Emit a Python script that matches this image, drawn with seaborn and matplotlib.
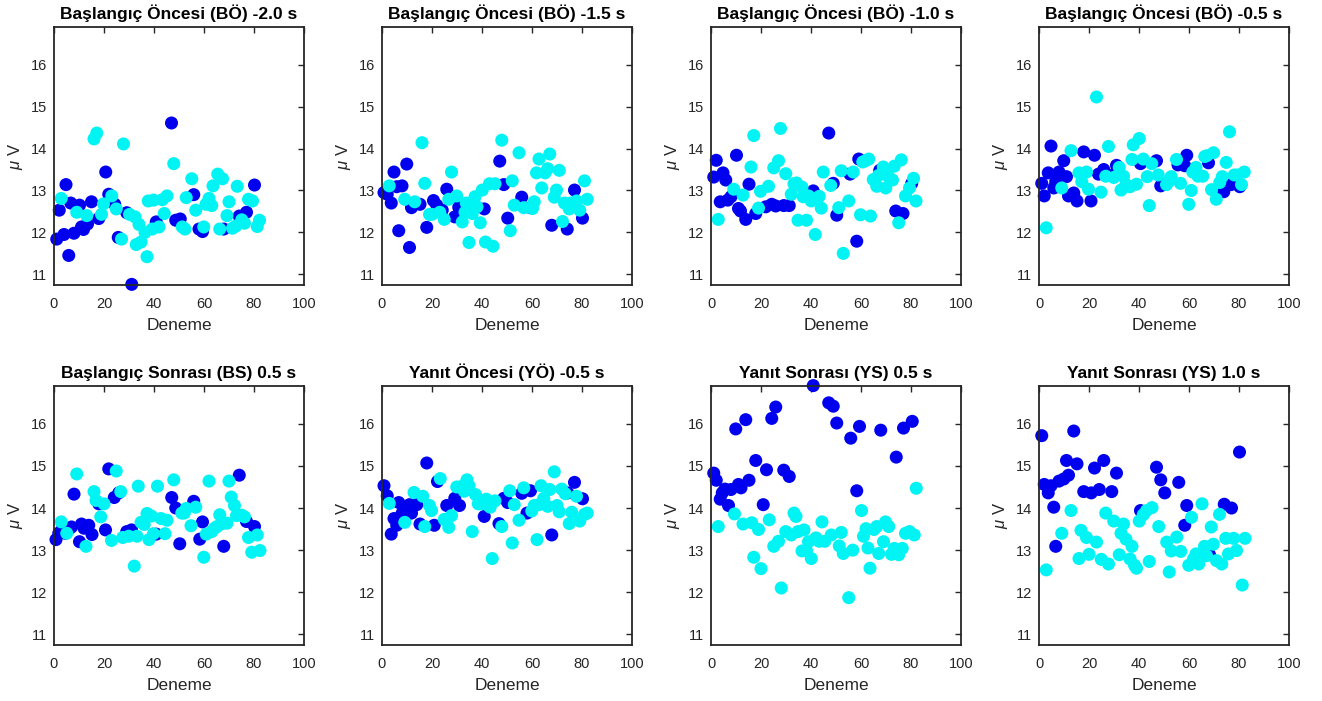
import numpy as np
import pandas as pd
import seaborn as sns
import matplotlib
matplotlib.use("Agg")
import matplotlib.pyplot as plt

# Data -----

titles = [
    "Başlangıç Öncesi (BÖ) -2.0 s",
    "Başlangıç Öncesi (BÖ) -1.5 s",
    "Başlangıç Öncesi (BÖ) -1.0 s",
    "Başlangıç Öncesi (BÖ) -0.5 s",
    "Başlangıç Sonrası (BS) 0.5 s",
    "Yanıt Öncesi (YÖ) -0.5 s",
    "Yanıt Sonrası (YS) 0.5 s",
    "Yanıt Sonrası (YS) 1.0 s",
]

# panel 1: BÖ -2.0 s
p1_blue_x = [1.1, 2.1, 4, 4.8, 5.9, 6.7, 8, 10.2, 11, 11.8, 13.4, 15, 17.9, 20.7, 21.9, 24.3, 25.7, 29.1, 31.1, 40.9, 47, 48.7, 50.5, 55.9, 58, 59.4, 67.9, 74.1, 77, 80.2]
p1_blue_y = [11.84, 12.53, 11.95, 13.14, 11.45, 12.7, 11.98, 12.65, 12.13, 12.07, 12.2, 12.73, 12.33, 13.44, 12.91, 12.67, 11.88, 12.47, 10.76, 12.25, 14.61, 12.29, 12.32, 12.9, 12.08, 12.02, 12.08, 12.39, 12.48, 13.13]
p1_cyan_x = [2.9, 9.1, 13.1, 16, 17.1, 19, 19.8, 23.1, 24.9, 27, 27.8, 30.2, 32.4, 32.9, 34, 34.8, 36.4, 37.2, 37.7, 39.3, 39.8, 42, 43.3, 44.1, 45.2, 47.9, 51.3, 52.4, 52.9, 55.1, 56.7, 59.9, 60.8, 62, 63.1, 63.6, 65.5, 66.3, 67.4, 69.2, 70, 71.4, 72.7, 73.3, 75.1, 76.2, 77.8, 79.4, 81.3, 82.2]
p1_cyan_y = [12.81, 12.48, 12.4, 14.23, 14.37, 12.43, 12.68, 12.87, 12.56, 11.84, 14.11, 12.43, 12.37, 11.71, 12.19, 11.77, 12.0, 11.42, 12.75, 12.08, 12.77, 12.13, 12.78, 12.45, 12.87, 13.64, 12.13, 12.08, 12.83, 13.28, 12.53, 12.13, 12.67, 12.81, 12.64, 13.11, 13.39, 12.08, 13.28, 12.4, 12.73, 12.1, 12.15, 13.1, 12.3, 12.22, 12.79, 12.75, 12.14, 12.29]

# panel 2: BÖ -1.5 s
p2_blue_x = [0.8, 2.1, 3.7, 4.8, 5.9, 6.7, 8, 9.9, 11, 11.8, 15.2, 17.9, 20.6, 21.9, 24.1, 25.9, 29.1, 30.7, 40.9, 47.1, 48.7, 50.3, 55.9, 59.4, 67.9, 74.1, 77, 80.2]
p2_blue_y = [12.95, 12.91, 12.7, 13.44, 13.09, 12.04, 13.11, 13.63, 11.64, 12.59, 12.67, 12.12, 12.76, 12.65, 12.53, 13.03, 12.37, 12.6, 12.56, 13.7, 13.14, 12.34, 12.84, 12.59, 12.17, 12.08, 13.01, 12.34]
p2_cyan_x = [2.9, 9.1, 13.1, 16, 17.1, 19, 20, 23.1, 24.9, 26.7, 27.8, 29.9, 32.1, 33.7, 33.2, 34.8, 36.1, 37.2, 38, 39.3, 40.1, 41.4, 43, 44.4, 45.2, 47.9, 51.3, 52.1, 52.9, 54.8, 56.7, 60.2, 60.9, 61.8, 62.8, 63.9, 65.2, 66.3, 67.1, 68.9, 69.8, 70.9, 72.2, 73, 74.9, 75.4, 77.8, 79.1, 81, 82.1]
p2_cyan_y = [13.11, 12.79, 12.73, 14.14, 13.17, 12.43, 12.43, 12.48, 12.31, 12.79, 13.44, 12.87, 12.25, 12.7, 12.48, 11.76, 12.45, 12.85, 12.61, 12.23, 13.01, 11.77, 13.16, 11.67, 13.16, 14.2, 12.04, 13.23, 12.65, 13.9, 12.59, 12.57, 12.73, 13.42, 13.75, 13.06, 13.42, 13.52, 13.87, 12.84, 13.01, 13.48, 12.26, 12.7, 12.56, 12.7, 12.75, 12.53, 13.23, 12.79]

# panel 3: BÖ -1.0 s
p3_blue_x = [1.1, 2.1, 3.7, 4.8, 5.9, 6.7, 8, 10.2, 11, 11.8, 13.9, 15.2, 17.9, 21.9, 24.3, 25.9, 29.1, 31.3, 40.9, 47.1, 48.9, 50.3, 55.6, 58.3, 59.1, 67.5, 73.9, 76.8, 80.3]
p3_blue_y = [13.32, 13.72, 12.73, 13.42, 13.25, 12.77, 12.85, 13.84, 12.57, 12.51, 12.31, 13.15, 12.45, 12.61, 12.67, 12.63, 12.64, 12.64, 12.99, 14.37, 13.17, 12.41, 13.39, 11.79, 13.75, 13.48, 12.51, 12.45, 13.17]
p3_cyan_x = [2.9, 9.1, 12.8, 16, 17.1, 19, 19.8, 23, 25.1, 27, 27.8, 29.9, 32.1, 33.2, 34.2, 34.8, 36.4, 36.9, 38.2, 39, 40.1, 41.7, 43.3, 44.1, 44.9, 47.9, 51.1, 52.1, 52.9, 55.1, 56.9, 59.8, 60.7, 61.8, 63.1, 63.8, 64.9, 66.3, 67, 68.9, 69.9, 71, 72.6, 73.3, 75.1, 76.1, 77.8, 79.4, 81, 82]
p3_cyan_y = [12.31, 13.03, 12.89, 13.56, 14.31, 12.58, 12.98, 13.1, 13.54, 13.71, 14.48, 13.4, 12.91, 13.16, 13.18, 12.29, 13.08, 12.85, 12.29, 12.87, 12.75, 11.95, 12.86, 12.58, 13.44, 13.12, 12.59, 13.47, 11.5, 12.75, 13.44, 12.42, 13.68, 13.71, 13.75, 12.39, 13.26, 13.1, 13.36, 13.56, 13.06, 13.33, 13.25, 13.58, 12.23, 13.73, 12.87, 13.06, 13.29, 12.75]

# panel 4: BÖ -0.5 s
p4_blue_x = [1.1, 2.1, 3.7, 4.8, 5.9, 6.7, 8, 9.9, 11, 11.8, 13.9, 15.2, 17.9, 20.8, 22.2, 23.8, 25.9, 29.1, 31, 40.6, 47, 48.7, 50.3, 55.6, 58.3, 59.1, 67.8, 73.9, 76.8, 80.3]
p4_blue_y = [13.17, 12.87, 13.42, 14.06, 13.06, 13.21, 13.44, 13.71, 13.33, 12.87, 12.94, 12.75, 13.92, 12.75, 13.84, 13.39, 13.5, 13.36, 13.6, 13.64, 13.71, 13.11, 13.17, 13.61, 13.59, 13.84, 13.66, 12.97, 13.14, 13.09]
p4_cyan_x = [2.9, 9.1, 12.8, 16, 17.1, 19, 19.8, 23, 24.8, 26.7, 27.8, 29.9, 32.1, 32.8, 33.8, 34.8, 36.4, 37.2, 37.7, 39, 40.1, 41.7, 43.3, 44.1, 45.1, 47.7, 51, 52.1, 52.9, 55, 56.6, 59.9, 60.9, 61.5, 62.8, 63.6, 65.5, 66.3, 67.1, 69.8, 69, 70.9, 72.3, 73.3, 74.9, 76.2, 78.1, 79.4, 81, 82.1]
p4_cyan_y = [12.11, 13.06, 13.95, 13.42, 13.21, 13.44, 13.03, 15.23, 12.96, 13.34, 14.05, 13.31, 13.55, 13.01, 13.34, 13.14, 13.09, 13.74, 14.09, 13.15, 14.24, 13.75, 13.33, 12.64, 13.64, 13.37, 13.14, 13.23, 13.33, 13.74, 13.17, 12.67, 13.0, 13.44, 13.55, 13.34, 13.34, 13.81, 13.83, 13.9, 13.02, 12.79, 13.19, 13.33, 13.67, 14.4, 13.37, 13.37, 13.14, 13.44]

# panel 5: BS 0.5 s
p5_blue_x = [0.8, 1.9, 2.9, 4.5, 5.9, 7, 8, 10.2, 11, 12, 13.9, 15.2, 17.9, 20.6, 21.9, 24.1, 25.9, 29.1, 31, 40.9, 47.1, 48.7, 50.3, 55.9, 58.3, 59.4, 67.9, 74.1, 77, 80.2]
p5_blue_y = [13.25, 13.4, 13.46, 13.4, 13.5, 13.55, 14.33, 13.2, 13.62, 13.52, 13.59, 13.37, 14.1, 13.48, 14.93, 14.25, 14.36, 13.44, 13.48, 13.38, 14.25, 14.0, 13.15, 14.16, 13.26, 13.67, 13.09, 14.78, 13.68, 13.56]
p5_cyan_x = [2.9, 5.1, 9.1, 12.8, 16, 16.8, 18.7, 20, 23, 24.9, 26.7, 27.5, 29.9, 32.1, 33.2, 33.7, 34.8, 36.1, 37.2, 38, 39, 39.8, 41.4, 42.8, 44.4, 45.2, 47.9, 51.1, 52.1, 52.9, 54.8, 56.7, 59.9, 60.9, 62, 63.1, 64.2, 65.2, 66.3, 67.4, 69.2, 70, 70.9, 72.2, 73, 75.1, 76.2, 77.8, 79.1, 81.3, 82.4]
p5_cyan_y = [13.67, 13.4, 14.81, 13.09, 14.39, 14.18, 13.79, 14.1, 13.23, 14.88, 14.39, 13.3, 13.33, 12.62, 13.33, 14.52, 13.66, 13.61, 13.87, 13.25, 13.81, 13.39, 14.52, 13.75, 13.39, 13.71, 14.67, 13.88, 13.88, 13.99, 13.58, 14.02, 12.83, 13.38, 14.64, 13.44, 13.52, 13.56, 13.84, 13.63, 13.64, 14.64, 14.26, 14.06, 13.82, 13.83, 13.79, 13.3, 12.95, 13.36, 12.99]

# panel 6: YÖ -0.5 s
p6_blue_x = [0.8, 2.1, 3.7, 4.8, 5.9, 6.7, 8, 9.6, 11, 11.8, 13.9, 15.2, 17.9, 20.9, 22.2, 25.9, 29.1, 31, 40.9, 46.8, 48.7, 50.3, 55.9, 58, 59.4, 67.9, 74.3, 77, 80.2]
p6_blue_y = [14.53, 14.29, 13.38, 13.75, 13.59, 14.13, 13.87, 13.88, 14.08, 13.88, 14.08, 13.62, 15.07, 13.59, 14.63, 14.06, 14.23, 14.06, 13.8, 13.63, 14.23, 14.13, 14.35, 13.88, 14.41, 13.36, 14.36, 14.61, 14.22]
p6_cyan_x = [2.9, 9.1, 12.8, 16.3, 17.1, 19, 19.8, 23.3, 24.9, 26.7, 27.8, 29.9, 32.1, 32.9, 34, 34.8, 36.1, 37.4, 38.5, 39.6, 40.6, 41.7, 42.5, 43.3, 44.1, 45.2, 47.9, 51.1, 52.1, 52.9, 54.8, 56.7, 59.9, 60.9, 62, 62.8, 63.6, 64.7, 66.3, 67.1, 68.9, 70, 70.9, 71.9, 73.3, 74.9, 75.9, 77.8, 79.1, 81, 82.1]
p6_cyan_y = [14.11, 13.66, 14.37, 14.28, 13.56, 14.06, 13.94, 14.7, 13.73, 13.54, 13.82, 14.5, 14.52, 14.4, 14.67, 14.53, 13.44, 14.32, 14.1, 14.1, 14.12, 14.21, 14.06, 14.02, 12.8, 14.17, 13.56, 14.41, 13.17, 14.08, 13.71, 14.48, 13.93, 14.06, 13.25, 14.08, 14.53, 14.23, 14.04, 14.44, 14.86, 14.06, 13.91, 14.45, 14.34, 13.63, 13.9, 14.28, 13.69, 13.85, 13.88]

# panel 7: YS 0.5 s
p7_blue_x = [1.1, 2.1, 3.7, 4.5, 5.6, 7, 8, 9.9, 11, 12, 13.9, 15.2, 17.9, 20.9, 22.2, 24.3, 25.9, 29.1, 31.3, 40.9, 47.1, 48.9, 50.3, 55.9, 58.3, 59.4, 67.9, 74.1, 77, 80.5]
p7_blue_y = [14.83, 14.66, 14.21, 14.36, 14.45, 14.06, 14.44, 15.88, 14.56, 14.48, 16.1, 14.66, 15.13, 14.08, 14.91, 16.13, 16.4, 14.9, 14.75, 16.91, 16.5, 16.42, 16.02, 15.66, 14.41, 15.94, 15.85, 15.21, 15.9, 16.06]
p7_cyan_x = [2.9, 9.4, 12.8, 16.3, 17.1, 19, 20, 23.3, 25.1, 27, 28.1, 29.9, 32.1, 33.2, 34, 34.8, 36.4, 37.2, 38.2, 39, 40.1, 42, 43.3, 44.4, 45.5, 48.1, 51.3, 52.1, 52.9, 55.1, 56.7, 60.2, 61, 62, 62.8, 63.6, 65.2, 66.3, 67.1, 69, 69.8, 71.1, 72.2, 73.3, 75.1, 76.5, 77.8, 79.4, 81.3, 82.1]
p7_cyan_y = [13.56, 13.86, 13.62, 13.65, 12.83, 13.49, 12.56, 13.72, 13.09, 13.21, 12.1, 13.44, 13.36, 13.88, 13.8, 13.44, 12.98, 13.48, 12.99, 13.2, 12.8, 13.29, 13.21, 13.67, 13.21, 13.36, 13.1, 13.42, 12.92, 11.87, 13.0, 13.94, 13.33, 13.51, 13.05, 12.57, 13.49, 13.56, 12.92, 13.2, 13.67, 13.56, 12.9, 13.04, 12.89, 13.04, 13.4, 13.44, 13.36, 14.47]

# panel 8: YS 1.0 s
p8_blue_x = [1.1, 2.1, 3.7, 4.8, 5.9, 6.7, 8, 9.9, 11, 11.8, 13.9, 15.2, 17.9, 20.9, 22.2, 24.1, 25.9, 29.1, 31, 40.6, 47, 48.7, 50.3, 55.9, 58.3, 59.1, 68.2, 74.1, 77, 80.2]
p8_blue_y = [15.72, 14.56, 14.36, 14.53, 14.02, 13.09, 14.64, 14.69, 15.13, 14.78, 15.83, 15.05, 14.39, 14.36, 14.95, 14.44, 15.13, 14.39, 14.83, 13.94, 14.97, 14.67, 14.36, 14.61, 13.59, 14.06, 12.89, 14.09, 14.0, 15.33]
p8_cyan_x = [2.9, 9.1, 12.8, 16.8, 16, 19, 20, 23, 24.9, 26.7, 27.8, 29.9, 32.1, 32.8, 33.8, 34.8, 36.4, 37.2, 38.2, 39, 40.1, 41.7, 43, 45.2, 44.1, 47.9, 51.1, 52.1, 52.9, 55.1, 56.7, 59.9, 61, 61.8, 62.8, 63.9, 65.2, 66.2, 67, 68.9, 69.7, 71, 72.2, 73.1, 74.7, 75.8, 77.8, 79, 81.3, 82.4]
p8_cyan_y = [12.53, 13.4, 13.94, 13.47, 12.8, 13.3, 12.9, 13.19, 12.78, 13.88, 12.67, 13.69, 12.89, 13.4, 13.62, 13.26, 12.79, 13.09, 12.64, 12.57, 13.69, 13.84, 13.94, 14.01, 12.73, 13.56, 13.19, 12.48, 12.98, 13.31, 12.97, 12.64, 13.78, 12.79, 12.91, 12.67, 14.1, 13.09, 12.87, 13.55, 13.14, 12.75, 13.85, 12.67, 13.28, 12.91, 13.28, 12.99, 12.17, 13.28]

blue_x = [p1_blue_x, p2_blue_x, p3_blue_x, p4_blue_x, p5_blue_x, p6_blue_x, p7_blue_x, p8_blue_x]
blue_y = [p1_blue_y, p2_blue_y, p3_blue_y, p4_blue_y, p5_blue_y, p6_blue_y, p7_blue_y, p8_blue_y]
cyan_x = [p1_cyan_x, p2_cyan_x, p3_cyan_x, p4_cyan_x, p5_cyan_x, p6_cyan_x, p7_cyan_x, p8_cyan_x]
cyan_y = [p1_cyan_y, p2_cyan_y, p3_cyan_y, p4_cyan_y, p5_cyan_y, p6_cyan_y, p7_cyan_y, p8_cyan_y]

x_ticks = [0, 20, 40, 60, 80, 100]
y_ticks = [11, 12, 13, 14, 15, 16]

# Plot -----

sns.set_theme(style="white")
plt.rcParams["font.family"] = ["Liberation Sans", "DejaVu Sans"]
plt.rcParams["mathtext.fontset"] = "custom"
plt.rcParams["mathtext.it"] = "Liberation Sans:italic"
plt.rcParams["mathtext.rm"] = "Liberation Sans"

palette = {"mavi": "#0000EE", "camgobegi": "#00F4F4"}
text_color = "#262626"

fig = plt.figure(figsize=(13.22, 7.01), dpi=100)
lefts = [54, 382, 711, 1039]
rows = [(27, 285), (386, 645)]
W, H = 1322, 701

for i in range(8):
    r, c = divmod(i, 4)
    top, bottom = rows[r]
    ax = fig.add_axes([lefts[c] / W, (H - bottom) / H, 250 / W, (bottom - top) / H])
    df = pd.concat(
        [
            pd.DataFrame({"x": blue_x[i], "y": blue_y[i], "grup": "mavi"}),
            pd.DataFrame({"x": cyan_x[i], "y": cyan_y[i], "grup": "camgobegi"}),
        ],
        ignore_index=True,
    )  # blue first so cyan sits on top
    sns.scatterplot(
        data=df, x="x", y="y", hue="grup", palette=palette, s=88,
        linewidth=0, legend=False, ax=ax, clip_on=False, alpha=1,
    )
    ax.set_xlim(0, 100)
    ax.set_ylim(10.745, 16.9)
    ax.set_xticks(x_ticks)
    ax.set_yticks(y_ticks)
    ax.tick_params(direction="in", length=4, width=1, top=True, right=True,
                   labelsize=10.5, colors=text_color, color="#262626")
    ax.tick_params(axis="x", pad=8.5)
    ax.tick_params(axis="y", pad=5)
    for s in ax.spines.values():
        s.set_linewidth(1.3)
        s.set_color("#262626")
        s.set_visible(True)
    ax.set_title(titles[i], fontsize=12.5, fontweight="bold", color="black", pad=6)
    ax.set_xlabel("Deneme", fontsize=12.5, color=text_color, labelpad=5.5)
    ax.set_ylabel(r"$\mu$ V", fontsize=12, color=text_color, labelpad=4)

fig.savefig("out.png", dpi=100)
